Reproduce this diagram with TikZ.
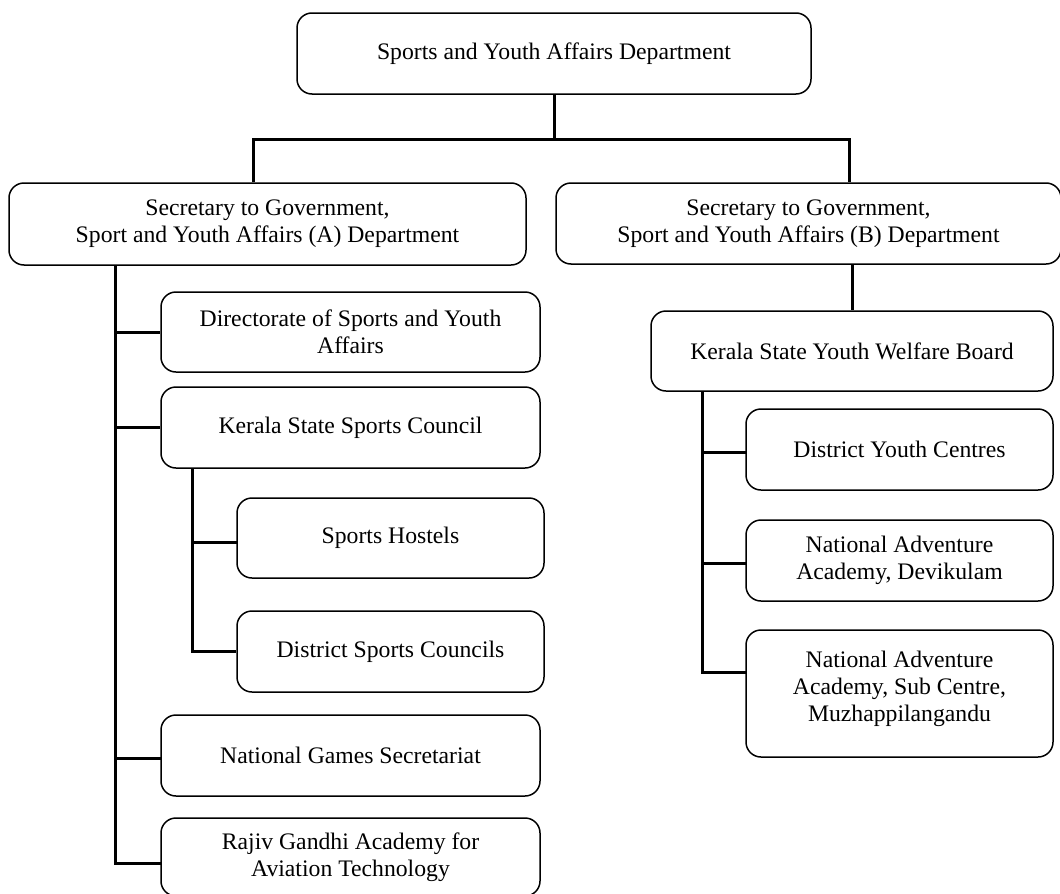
\documentclass[tikz,border=0pt]{standalone}
\usepackage{fontspec}
\setmainfont{Liberation Serif}
\begin{document}
\begin{tikzpicture}[x=1pt,y=-1pt,
  orgbox/.style={draw=black,line width=1.5pt,rounded corners=15pt,inner sep=0pt,align=center,
    font=\fontsize{23.7}{27}\selectfont},
  conn/.style={draw=black,line width=3pt,line join=miter}]
\useasboundingbox (0,0) rectangle (1060,894);
% boxes
\node[orgbox,minimum width=514pt,minimum height=81pt] (top) at (554,53.5) {Sports and Youth Affairs Department};
\node[orgbox,minimum width=517pt,minimum height=82pt] (A) at (267.5,224) {Secretary to Government,\\Sport and Youth Affairs (A) Department};
\node[orgbox,minimum width=505pt,minimum height=81pt] (B) at (808.5,223.5) {Secretary to Government,\\Sport and Youth Affairs (B) Department};
\node[orgbox,minimum width=379pt,minimum height=80pt] (dir) at (350.5,332) {Directorate of Sports and Youth\\Affairs};
\node[orgbox,minimum width=379pt,minimum height=81pt] (kssc) at (350.5,427.5) {Kerala State Sports Council};
\node[orgbox,minimum width=307pt,minimum height=80pt] (hostels) at (390.5,538) {Sports Hostels};
\node[orgbox,minimum width=307pt,minimum height=81pt] (dsc) at (390.5,651.5) {District Sports Councils};
\node[orgbox,minimum width=379pt,minimum height=81pt] (ngs) at (350.5,755.5) {National Games Secretariat};
\node[orgbox,minimum width=379pt,minimum height=78pt] (rg) at (350.5,857) {Rajiv Gandhi Academy for\\Aviation Technology};
\node[orgbox,minimum width=402pt,minimum height=80pt] (ksywb) at (852,351) {Kerala State Youth Welfare Board};
\node[orgbox,minimum width=307pt,minimum height=81pt] (dyc) at (899.5,449.5) {District Youth Centres};
\node[orgbox,minimum width=307pt,minimum height=81pt] (naad) at (899.5,560.5) {National Adventure\\Academy, Devikulam};
\node[orgbox,minimum width=307pt,minimum height=127pt,text depth=14pt] (naas) at (899.5,693.5) {National Adventure\\Academy, Sub Centre,\\Muzhappilangandu};
% connector coordinates
\coordinate (hL) at (253,139);
\coordinate (hR) at (849,139);
\coordinate (tA) at (115,265);
\coordinate (tK) at (192,468);
\coordinate (tY) at (702,391);
\coordinate (hosb) at (237,542);
\coordinate (ngsb) at (161,758);
\coordinate (rgb) at (161,863);
\coordinate (dycb) at (746,452);
\coordinate (naadb) at (746,563);
\coordinate (naasb) at (746,672);
% top level
\draw[conn] (top.south) -- (top.south |- hL);
\draw[conn] (A.north -| hL) |- (hR) -- (B.north -| hR);
% A branch
\draw[conn] (tA) |- (rgb);
\draw[conn] (tA |- dir.west) -- (dir.west);
\draw[conn] (tA |- kssc.west) -- (kssc.west);
\draw[conn] (tA |- ngsb) -- (ngsb);
\draw[conn] (tK) |- (dsc.west);
\draw[conn] (tK |- hosb) -- (hosb);
% B branch
\draw[conn] (B.south -| ksywb.north) -- (ksywb.north);
\draw[conn] (tY) |- (naasb);
\draw[conn] (tY |- dycb) -- (dycb);
\draw[conn] (tY |- naadb) -- (naadb);
\end{tikzpicture}
\end{document}
